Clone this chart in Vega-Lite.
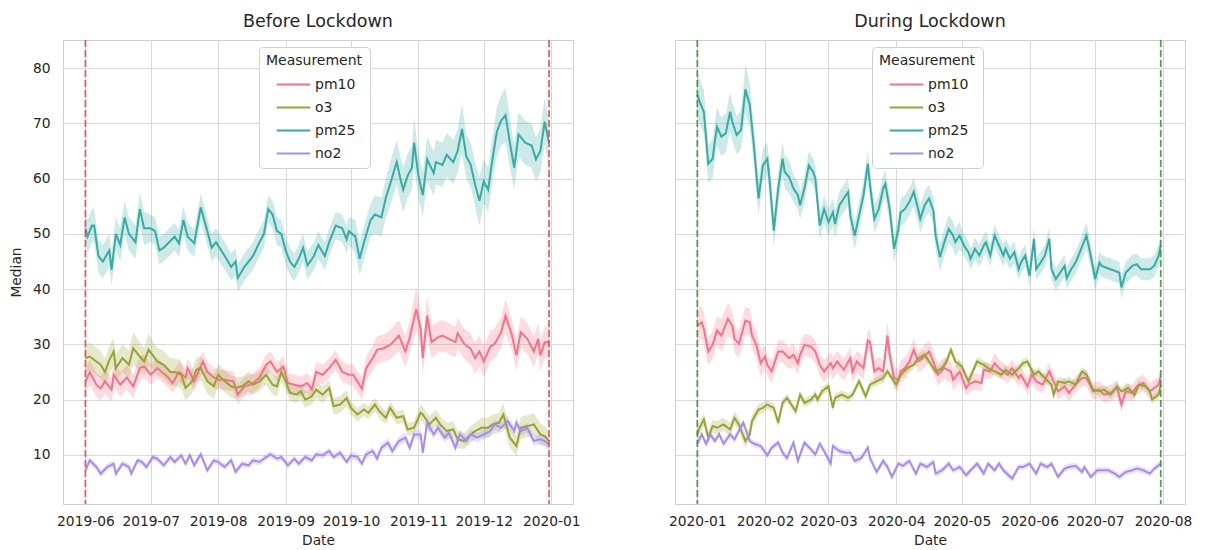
{
"$schema":"https://vega.github.io/schema/vega-lite/v6.json",
"background":"white",
"padding":{"left":8,"top":12,"right":5,"bottom":3},
"bounds":"flush",
"spacing":102,
"config":{
"font":"DejaVu Sans",
"view":{"stroke":"#cfcfcf","strokeWidth":1},
"axis":{"grid":true,"gridColor":"#d9d9d9","gridWidth":1,"domain":false,"ticks":false,"labelColor":"#262626","labelFontSize":13.8,"titleColor":"#262626","titleFontSize":13.8,"titleFontWeight":"normal","labelFont":"DejaVu Sans","titleFont":"DejaVu Sans"},
"title":{"fontSize":17.5,"fontWeight":"normal","color":"#262626","offset":9,"font":"DejaVu Sans"},
"legend":{"titleFontSize":14,"labelFontSize":14,"titleFontWeight":"normal","titleColor":"#262626","labelColor":"#262626","titleFont":"DejaVu Sans","labelFont":"DejaVu Sans","symbolType":"M-1.6,0H1.6","symbolStrokeWidth":2,"symbolSize":441,"symbolOpacity":1,"fillColor":"white","strokeColor":"#d0d0d0","cornerRadius":4,"padding":7,"titleAnchor":"middle","labelOffset":10,"symbolOffset":10,"rowPadding":4,"titlePadding":5}
},
"resolve":{"scale":{"x":"independent","y":"independent","color":"independent"},"legend":{"color":"independent"}},
"datasets":{
"b":[
{"m":"pm25","d":"2019-06-01","v":51,"l":48,"h":54},
{"m":"pm25","d":"2019-06-02","v":49.5,"l":46.5,"h":52.5},
{"m":"pm25","d":"2019-06-04","v":51.5,"l":48.5,"h":54.5},
{"m":"pm25","d":"2019-06-05","v":51.5,"l":48.5,"h":54.5},
{"m":"pm25","d":"2019-06-07","v":46,"l":43,"h":49},
{"m":"pm25","d":"2019-06-09","v":45,"l":42,"h":48},
{"m":"pm25","d":"2019-06-12","v":47,"l":44,"h":50},
{"m":"pm25","d":"2019-06-13","v":43.5,"l":40.5,"h":46.5},
{"m":"pm25","d":"2019-06-15","v":50,"l":47,"h":53},
{"m":"pm25","d":"2019-06-17","v":48,"l":45,"h":51},
{"m":"pm25","d":"2019-06-19","v":53,"l":50,"h":56},
{"m":"pm25","d":"2019-06-21","v":50,"l":47,"h":53},
{"m":"pm25","d":"2019-06-24","v":48.5,"l":45.5,"h":51.5},
{"m":"pm25","d":"2019-06-26","v":54.5,"l":51.5,"h":57.5},
{"m":"pm25","d":"2019-06-28","v":51,"l":48,"h":54},
{"m":"pm25","d":"2019-07-01","v":51,"l":48.5,"h":53.5},
{"m":"pm25","d":"2019-07-03","v":50.5,"l":48,"h":53},
{"m":"pm25","d":"2019-07-05","v":47,"l":44.5,"h":49.5},
{"m":"pm25","d":"2019-07-07","v":47.5,"l":45,"h":50},
{"m":"pm25","d":"2019-07-09","v":48.3,"l":45.8,"h":50.8},
{"m":"pm25","d":"2019-07-12","v":49.5,"l":47,"h":52},
{"m":"pm25","d":"2019-07-14","v":48.3,"l":45.8,"h":50.8},
{"m":"pm25","d":"2019-07-16","v":52.5,"l":50,"h":55},
{"m":"pm25","d":"2019-07-18","v":49.5,"l":47,"h":52},
{"m":"pm25","d":"2019-07-21","v":48.3,"l":45.8,"h":50.8},
{"m":"pm25","d":"2019-07-24","v":54.8,"l":52.3,"h":57.3},
{"m":"pm25","d":"2019-07-27","v":50.5,"l":48,"h":53},
{"m":"pm25","d":"2019-07-29","v":47.5,"l":45,"h":50},
{"m":"pm25","d":"2019-07-31","v":48.5,"l":46,"h":51},
{"m":"pm25","d":"2019-08-04","v":46,"l":43.5,"h":48.5},
{"m":"pm25","d":"2019-08-07","v":44,"l":41.5,"h":46.5},
{"m":"pm25","d":"2019-08-09","v":45,"l":42.5,"h":47.5},
{"m":"pm25","d":"2019-08-10","v":42,"l":39.5,"h":44.5},
{"m":"pm25","d":"2019-08-13","v":44,"l":41.5,"h":46.5},
{"m":"pm25","d":"2019-08-17","v":46,"l":43.5,"h":48.5},
{"m":"pm25","d":"2019-08-20","v":48.5,"l":46,"h":51},
{"m":"pm25","d":"2019-08-22","v":50,"l":47.5,"h":52.5},
{"m":"pm25","d":"2019-08-24","v":54.5,"l":52,"h":57},
{"m":"pm25","d":"2019-08-26","v":53.5,"l":51,"h":56},
{"m":"pm25","d":"2019-08-28","v":50.5,"l":48,"h":53},
{"m":"pm25","d":"2019-08-30","v":50,"l":47.5,"h":52.5},
{"m":"pm25","d":"2019-09-01","v":47,"l":44.5,"h":49.5},
{"m":"pm25","d":"2019-09-03","v":45,"l":42.5,"h":47.5},
{"m":"pm25","d":"2019-09-05","v":44,"l":41.5,"h":46.5},
{"m":"pm25","d":"2019-09-07","v":45.5,"l":43,"h":48},
{"m":"pm25","d":"2019-09-09","v":47.5,"l":45,"h":50},
{"m":"pm25","d":"2019-09-11","v":44.3,"l":41.8,"h":46.8},
{"m":"pm25","d":"2019-09-14","v":46,"l":43.5,"h":48.5},
{"m":"pm25","d":"2019-09-16","v":48,"l":45.5,"h":50.5},
{"m":"pm25","d":"2019-09-19","v":46,"l":43.5,"h":48.5},
{"m":"pm25","d":"2019-09-21","v":48.5,"l":46,"h":51},
{"m":"pm25","d":"2019-09-24","v":51.5,"l":49,"h":54},
{"m":"pm25","d":"2019-09-27","v":51,"l":48.5,"h":53.5},
{"m":"pm25","d":"2019-09-29","v":49,"l":46.5,"h":51.5},
{"m":"pm25","d":"2019-09-30","v":50.5,"l":48,"h":53},
{"m":"pm25","d":"2019-10-03","v":49.5,"l":46.5,"h":52.5},
{"m":"pm25","d":"2019-10-05","v":45.5,"l":42.5,"h":48.5},
{"m":"pm25","d":"2019-10-07","v":48.5,"l":45.5,"h":51.5},
{"m":"pm25","d":"2019-10-10","v":52.5,"l":49.5,"h":55.5},
{"m":"pm25","d":"2019-10-12","v":53.5,"l":50,"h":57},
{"m":"pm25","d":"2019-10-15","v":53,"l":49.5,"h":56.5},
{"m":"pm25","d":"2019-10-17","v":56.5,"l":53,"h":60},
{"m":"pm25","d":"2019-10-19","v":59,"l":55,"h":63},
{"m":"pm25","d":"2019-10-22","v":63,"l":59,"h":67},
{"m":"pm25","d":"2019-10-24","v":59.5,"l":55.5,"h":63.5},
{"m":"pm25","d":"2019-10-25","v":58,"l":54,"h":62},
{"m":"pm25","d":"2019-10-27","v":60.5,"l":56.5,"h":64.5},
{"m":"pm25","d":"2019-10-29","v":62,"l":58,"h":66},
{"m":"pm25","d":"2019-10-30","v":66.5,"l":62,"h":71},
{"m":"pm25","d":"2019-11-01","v":60.5,"l":56.5,"h":64.5},
{"m":"pm25","d":"2019-11-03","v":57,"l":53,"h":61},
{"m":"pm25","d":"2019-11-05","v":63.5,"l":59.5,"h":67.5},
{"m":"pm25","d":"2019-11-08","v":61,"l":57,"h":65},
{"m":"pm25","d":"2019-11-09","v":63,"l":59,"h":67},
{"m":"pm25","d":"2019-11-12","v":62.5,"l":58.5,"h":66.5},
{"m":"pm25","d":"2019-11-14","v":64.3,"l":60.3,"h":68.3},
{"m":"pm25","d":"2019-11-17","v":63,"l":59,"h":67},
{"m":"pm25","d":"2019-11-19","v":65,"l":61,"h":69},
{"m":"pm25","d":"2019-11-21","v":69,"l":64.5,"h":73.5},
{"m":"pm25","d":"2019-11-23","v":64,"l":60,"h":68},
{"m":"pm25","d":"2019-11-25","v":62.5,"l":58.5,"h":66.5},
{"m":"pm25","d":"2019-11-27","v":59,"l":55,"h":63},
{"m":"pm25","d":"2019-11-29","v":56,"l":51.5,"h":60.5},
{"m":"pm25","d":"2019-12-01","v":59.5,"l":55.5,"h":63.5},
{"m":"pm25","d":"2019-12-03","v":58,"l":54,"h":62},
{"m":"pm25","d":"2019-12-05","v":63.5,"l":59.5,"h":67.5},
{"m":"pm25","d":"2019-12-07","v":68.5,"l":64,"h":73},
{"m":"pm25","d":"2019-12-09","v":70.5,"l":66,"h":75},
{"m":"pm25","d":"2019-12-11","v":71.5,"l":66.5,"h":76.5},
{"m":"pm25","d":"2019-12-13","v":66.5,"l":62,"h":71},
{"m":"pm25","d":"2019-12-15","v":62,"l":58,"h":66},
{"m":"pm25","d":"2019-12-17","v":68,"l":64,"h":72},
{"m":"pm25","d":"2019-12-20","v":66.5,"l":62.5,"h":70.5},
{"m":"pm25","d":"2019-12-23","v":66,"l":62,"h":70},
{"m":"pm25","d":"2019-12-25","v":63.5,"l":59.5,"h":67.5},
{"m":"pm25","d":"2019-12-27","v":65,"l":61,"h":69},
{"m":"pm25","d":"2019-12-29","v":70.3,"l":66,"h":74.6},
{"m":"pm25","d":"2019-12-31","v":66.5,"l":62,"h":71},
{"m":"pm10","d":"2019-06-01","v":23.3,"l":21.1,"h":25.5},
{"m":"pm10","d":"2019-06-03","v":25,"l":22.8,"h":27.2},
{"m":"pm10","d":"2019-06-06","v":22.7,"l":20.5,"h":24.9},
{"m":"pm10","d":"2019-06-08","v":22,"l":19.8,"h":24.2},
{"m":"pm10","d":"2019-06-10","v":23.3,"l":21.1,"h":25.5},
{"m":"pm10","d":"2019-06-13","v":21.8,"l":19.6,"h":24},
{"m":"pm10","d":"2019-06-14","v":24.5,"l":22.3,"h":26.7},
{"m":"pm10","d":"2019-06-17","v":22.7,"l":20.5,"h":24.9},
{"m":"pm10","d":"2019-06-20","v":24,"l":21.8,"h":26.2},
{"m":"pm10","d":"2019-06-23","v":22.4,"l":20.2,"h":24.6},
{"m":"pm10","d":"2019-06-26","v":25.7,"l":23.5,"h":27.9},
{"m":"pm10","d":"2019-06-28","v":26,"l":23.8,"h":28.2},
{"m":"pm10","d":"2019-07-01","v":24.5,"l":22.7,"h":26.3},
{"m":"pm10","d":"2019-07-04","v":25.7,"l":23.9,"h":27.5},
{"m":"pm10","d":"2019-07-09","v":24,"l":22.2,"h":25.8},
{"m":"pm10","d":"2019-07-11","v":23,"l":21.2,"h":24.8},
{"m":"pm10","d":"2019-07-14","v":25,"l":23.2,"h":26.8},
{"m":"pm10","d":"2019-07-17","v":24,"l":22.2,"h":25.8},
{"m":"pm10","d":"2019-07-18","v":25.7,"l":23.9,"h":27.5},
{"m":"pm10","d":"2019-07-21","v":23.3,"l":21.5,"h":25.1},
{"m":"pm10","d":"2019-07-25","v":26.9,"l":25.1,"h":28.7},
{"m":"pm10","d":"2019-07-27","v":25,"l":23.2,"h":26.8},
{"m":"pm10","d":"2019-07-30","v":24,"l":22.2,"h":25.8},
{"m":"pm10","d":"2019-08-01","v":23.6,"l":21.8,"h":25.4},
{"m":"pm10","d":"2019-08-04","v":23.6,"l":21.8,"h":25.4},
{"m":"pm10","d":"2019-08-08","v":23.3,"l":21.5,"h":25.1},
{"m":"pm10","d":"2019-08-10","v":20.9,"l":19.1,"h":22.7},
{"m":"pm10","d":"2019-08-13","v":22.4,"l":20.6,"h":24.2},
{"m":"pm10","d":"2019-08-16","v":22.7,"l":20.9,"h":24.5},
{"m":"pm10","d":"2019-08-20","v":24,"l":22.2,"h":25.8},
{"m":"pm10","d":"2019-08-23","v":26.3,"l":24.5,"h":28.1},
{"m":"pm10","d":"2019-08-25","v":26.9,"l":25.1,"h":28.7},
{"m":"pm10","d":"2019-08-28","v":25,"l":23.2,"h":26.8},
{"m":"pm10","d":"2019-08-31","v":26,"l":24.2,"h":27.8},
{"m":"pm10","d":"2019-09-02","v":23,"l":21.2,"h":24.8},
{"m":"pm10","d":"2019-09-05","v":22.7,"l":20.9,"h":24.5},
{"m":"pm10","d":"2019-09-08","v":22.4,"l":20.6,"h":24.2},
{"m":"pm10","d":"2019-09-11","v":23,"l":21.2,"h":24.8},
{"m":"pm10","d":"2019-09-13","v":21.8,"l":20,"h":23.6},
{"m":"pm10","d":"2019-09-15","v":25,"l":23.2,"h":26.8},
{"m":"pm10","d":"2019-09-18","v":24.5,"l":22.7,"h":26.3},
{"m":"pm10","d":"2019-09-21","v":25.7,"l":23.9,"h":27.5},
{"m":"pm10","d":"2019-09-24","v":27.2,"l":25.4,"h":29},
{"m":"pm10","d":"2019-09-27","v":25,"l":23.2,"h":26.8},
{"m":"pm10","d":"2019-09-30","v":24.5,"l":22.7,"h":26.3},
{"m":"pm10","d":"2019-10-02","v":24.5,"l":22.5,"h":26.5},
{"m":"pm10","d":"2019-10-06","v":22,"l":20,"h":24},
{"m":"pm10","d":"2019-10-08","v":25.7,"l":23.5,"h":27.9},
{"m":"pm10","d":"2019-10-11","v":27.5,"l":25.2,"h":29.8},
{"m":"pm10","d":"2019-10-13","v":29,"l":26.5,"h":31.5},
{"m":"pm10","d":"2019-10-16","v":29.3,"l":26.8,"h":31.8},
{"m":"pm10","d":"2019-10-19","v":29.9,"l":27.3,"h":32.5},
{"m":"pm10","d":"2019-10-21","v":30.7,"l":28,"h":33.4},
{"m":"pm10","d":"2019-10-23","v":31.6,"l":28.8,"h":34.4},
{"m":"pm10","d":"2019-10-26","v":28.7,"l":25.9,"h":31.5},
{"m":"pm10","d":"2019-10-28","v":31.3,"l":28.5,"h":34.1},
{"m":"pm10","d":"2019-10-31","v":36.4,"l":32.4,"h":40.4},
{"m":"pm10","d":"2019-11-02","v":32.8,"l":29.5,"h":36.1},
{"m":"pm10","d":"2019-11-03","v":27.5,"l":24.5,"h":30.5},
{"m":"pm10","d":"2019-11-05","v":35.2,"l":31.7,"h":38.7},
{"m":"pm10","d":"2019-11-07","v":30.4,"l":27.4,"h":33.4},
{"m":"pm10","d":"2019-11-10","v":31.3,"l":28.5,"h":34.1},
{"m":"pm10","d":"2019-11-12","v":31.6,"l":28.8,"h":34.4},
{"m":"pm10","d":"2019-11-15","v":31,"l":28.2,"h":33.8},
{"m":"pm10","d":"2019-11-18","v":30.4,"l":27.6,"h":33.2},
{"m":"pm10","d":"2019-11-19","v":32,"l":29.2,"h":34.8},
{"m":"pm10","d":"2019-11-22","v":30.1,"l":27.3,"h":32.9},
{"m":"pm10","d":"2019-11-25","v":29.2,"l":26.4,"h":32},
{"m":"pm10","d":"2019-11-27","v":27.5,"l":24.7,"h":30.3},
{"m":"pm10","d":"2019-11-29","v":28.7,"l":25.9,"h":31.5},
{"m":"pm10","d":"2019-12-01","v":26.9,"l":24.1,"h":29.7},
{"m":"pm10","d":"2019-12-04","v":29.6,"l":26.8,"h":32.4},
{"m":"pm10","d":"2019-12-06","v":30.1,"l":27.3,"h":32.9},
{"m":"pm10","d":"2019-12-09","v":32.2,"l":29.4,"h":35},
{"m":"pm10","d":"2019-12-11","v":35.2,"l":32.2,"h":38.2},
{"m":"pm10","d":"2019-12-14","v":31.6,"l":28.8,"h":34.4},
{"m":"pm10","d":"2019-12-16","v":28,"l":25.2,"h":30.8},
{"m":"pm10","d":"2019-12-18","v":32.2,"l":29.4,"h":35},
{"m":"pm10","d":"2019-12-21","v":31,"l":28.2,"h":33.8},
{"m":"pm10","d":"2019-12-24","v":28.7,"l":25.9,"h":31.5},
{"m":"pm10","d":"2019-12-26","v":31,"l":28.2,"h":33.8},
{"m":"pm10","d":"2019-12-27","v":28,"l":25.2,"h":30.8},
{"m":"pm10","d":"2019-12-29","v":30.4,"l":27.6,"h":33.2},
{"m":"pm10","d":"2019-12-31","v":30.4,"l":27.6,"h":33.2},
{"m":"o3","d":"2019-06-01","v":27.5,"l":25,"h":30},
{"m":"o3","d":"2019-06-03","v":27.8,"l":25.3,"h":30.3},
{"m":"o3","d":"2019-06-06","v":26.9,"l":24.4,"h":29.4},
{"m":"o3","d":"2019-06-08","v":26.3,"l":23.8,"h":28.8},
{"m":"o3","d":"2019-06-10","v":25,"l":22.5,"h":27.5},
{"m":"o3","d":"2019-06-12","v":27.2,"l":24.7,"h":29.7},
{"m":"o3","d":"2019-06-14","v":28.7,"l":26.2,"h":31.2},
{"m":"o3","d":"2019-06-15","v":25.7,"l":23.2,"h":28.2},
{"m":"o3","d":"2019-06-18","v":27.5,"l":25,"h":30},
{"m":"o3","d":"2019-06-21","v":26.3,"l":23.8,"h":28.8},
{"m":"o3","d":"2019-06-23","v":29.3,"l":26.3,"h":32.3},
{"m":"o3","d":"2019-06-26","v":27.8,"l":25.3,"h":30.3},
{"m":"o3","d":"2019-06-28","v":26.9,"l":24.4,"h":29.4},
{"m":"o3","d":"2019-06-30","v":29,"l":26,"h":32},
{"m":"o3","d":"2019-07-02","v":28,"l":25.5,"h":30.5},
{"m":"o3","d":"2019-07-04","v":26.9,"l":24.4,"h":29.4},
{"m":"o3","d":"2019-07-07","v":26.3,"l":23.8,"h":28.8},
{"m":"o3","d":"2019-07-10","v":25,"l":22.5,"h":27.5},
{"m":"o3","d":"2019-07-12","v":25,"l":22.5,"h":27.5},
{"m":"o3","d":"2019-07-15","v":24.5,"l":22,"h":27},
{"m":"o3","d":"2019-07-17","v":22.1,"l":19.9,"h":24.3},
{"m":"o3","d":"2019-07-20","v":23.3,"l":21.1,"h":25.5},
{"m":"o3","d":"2019-07-22","v":25.4,"l":23.2,"h":27.6},
{"m":"o3","d":"2019-07-24","v":25.7,"l":23.5,"h":27.9},
{"m":"o3","d":"2019-07-27","v":23.3,"l":21.1,"h":25.5},
{"m":"o3","d":"2019-07-30","v":22.4,"l":20.2,"h":24.6},
{"m":"o3","d":"2019-08-01","v":24.5,"l":22.5,"h":26.5},
{"m":"o3","d":"2019-08-04","v":23.3,"l":21.3,"h":25.3},
{"m":"o3","d":"2019-08-07","v":22.4,"l":20.4,"h":24.4},
{"m":"o3","d":"2019-08-09","v":22.1,"l":20.1,"h":24.1},
{"m":"o3","d":"2019-08-12","v":22.4,"l":20.6,"h":24.2},
{"m":"o3","d":"2019-08-15","v":23.3,"l":21.5,"h":25.1},
{"m":"o3","d":"2019-08-17","v":22.7,"l":20.9,"h":24.5},
{"m":"o3","d":"2019-08-20","v":23.3,"l":21.5,"h":25.1},
{"m":"o3","d":"2019-08-23","v":24.5,"l":22.7,"h":26.3},
{"m":"o3","d":"2019-08-26","v":22.7,"l":20.9,"h":24.5},
{"m":"o3","d":"2019-08-28","v":22.4,"l":20.6,"h":24.2},
{"m":"o3","d":"2019-08-30","v":25,"l":23.2,"h":26.8},
{"m":"o3","d":"2019-09-01","v":23.3,"l":21.8,"h":24.8},
{"m":"o3","d":"2019-09-03","v":21.2,"l":19.7,"h":22.7},
{"m":"o3","d":"2019-09-06","v":20.9,"l":19.4,"h":22.4},
{"m":"o3","d":"2019-09-08","v":21.5,"l":20,"h":23},
{"m":"o3","d":"2019-09-10","v":20,"l":18.5,"h":21.5},
{"m":"o3","d":"2019-09-13","v":20.6,"l":19.1,"h":22.1},
{"m":"o3","d":"2019-09-15","v":21.8,"l":20.3,"h":23.3},
{"m":"o3","d":"2019-09-18","v":20.9,"l":19.4,"h":22.4},
{"m":"o3","d":"2019-09-21","v":22.1,"l":20.6,"h":23.6},
{"m":"o3","d":"2019-09-23","v":18.8,"l":17.3,"h":20.3},
{"m":"o3","d":"2019-09-26","v":19.1,"l":17.6,"h":20.6},
{"m":"o3","d":"2019-09-29","v":20.3,"l":18.8,"h":21.8},
{"m":"o3","d":"2019-10-01","v":18.5,"l":17.3,"h":19.7},
{"m":"o3","d":"2019-10-04","v":17.3,"l":16.1,"h":18.5},
{"m":"o3","d":"2019-10-07","v":18.2,"l":17,"h":19.4},
{"m":"o3","d":"2019-10-09","v":17.6,"l":16.4,"h":18.8},
{"m":"o3","d":"2019-10-12","v":19.1,"l":17.9,"h":20.3},
{"m":"o3","d":"2019-10-14","v":17.9,"l":16.7,"h":19.1},
{"m":"o3","d":"2019-10-17","v":16.7,"l":15.5,"h":17.9},
{"m":"o3","d":"2019-10-19","v":18.5,"l":17.3,"h":19.7},
{"m":"o3","d":"2019-10-22","v":16.7,"l":15.5,"h":17.9},
{"m":"o3","d":"2019-10-25","v":17,"l":15.8,"h":18.2},
{"m":"o3","d":"2019-10-27","v":14.6,"l":13.4,"h":15.8},
{"m":"o3","d":"2019-10-30","v":14.9,"l":13.7,"h":16.1},
{"m":"o3","d":"2019-11-02","v":17.6,"l":16.1,"h":19.1},
{"m":"o3","d":"2019-11-03","v":17.3,"l":15.8,"h":18.8},
{"m":"o3","d":"2019-11-06","v":15.5,"l":14,"h":17},
{"m":"o3","d":"2019-11-09","v":16.7,"l":15.2,"h":18.2},
{"m":"o3","d":"2019-11-11","v":15.5,"l":14,"h":17},
{"m":"o3","d":"2019-11-14","v":14.3,"l":12.8,"h":15.8},
{"m":"o3","d":"2019-11-17","v":14.6,"l":13.1,"h":16.1},
{"m":"o3","d":"2019-11-19","v":12.8,"l":11.3,"h":14.3},
{"m":"o3","d":"2019-11-22","v":12.5,"l":11,"h":14},
{"m":"o3","d":"2019-11-25","v":13.7,"l":12.2,"h":15.2},
{"m":"o3","d":"2019-11-27","v":14.3,"l":12.8,"h":15.8},
{"m":"o3","d":"2019-11-30","v":14.9,"l":13.1,"h":16.7},
{"m":"o3","d":"2019-12-03","v":14.9,"l":13.1,"h":16.7},
{"m":"o3","d":"2019-12-05","v":15.5,"l":13.7,"h":17.3},
{"m":"o3","d":"2019-12-08","v":15.8,"l":14,"h":17.6},
{"m":"o3","d":"2019-12-10","v":17.3,"l":15.3,"h":19.3},
{"m":"o3","d":"2019-12-13","v":13.1,"l":11.3,"h":14.9},
{"m":"o3","d":"2019-12-16","v":11.6,"l":9.8,"h":13.4},
{"m":"o3","d":"2019-12-18","v":14.9,"l":12.9,"h":16.9},
{"m":"o3","d":"2019-12-21","v":15.2,"l":13.2,"h":17.2},
{"m":"o3","d":"2019-12-24","v":15.5,"l":13.5,"h":17.5},
{"m":"o3","d":"2019-12-27","v":13.7,"l":11.7,"h":15.7},
{"m":"o3","d":"2019-12-29","v":13.4,"l":11.6,"h":15.2},
{"m":"o3","d":"2019-12-31","v":12.5,"l":10.7,"h":14.3},
{"m":"no2","d":"2019-06-01","v":7.2,"l":6.6,"h":7.8},
{"m":"no2","d":"2019-06-03","v":9,"l":8.4,"h":9.6},
{"m":"no2","d":"2019-06-06","v":7.8,"l":7.2,"h":8.4},
{"m":"no2","d":"2019-06-08","v":6.6,"l":6,"h":7.2},
{"m":"no2","d":"2019-06-11","v":7.8,"l":7.2,"h":8.4},
{"m":"no2","d":"2019-06-14","v":8.4,"l":7.8,"h":9},
{"m":"no2","d":"2019-06-15","v":6.6,"l":6,"h":7.2},
{"m":"no2","d":"2019-06-18","v":8.4,"l":7.8,"h":9},
{"m":"no2","d":"2019-06-21","v":7.8,"l":7.2,"h":8.4},
{"m":"no2","d":"2019-06-22","v":6.6,"l":6,"h":7.2},
{"m":"no2","d":"2019-06-25","v":9,"l":8.4,"h":9.6},
{"m":"no2","d":"2019-06-27","v":8.7,"l":8.1,"h":9.3},
{"m":"no2","d":"2019-06-29","v":7.8,"l":7.2,"h":8.4},
{"m":"no2","d":"2019-07-02","v":9.6,"l":9,"h":10.2},
{"m":"no2","d":"2019-07-04","v":9.3,"l":8.7,"h":9.9},
{"m":"no2","d":"2019-07-07","v":8.1,"l":7.5,"h":8.7},
{"m":"no2","d":"2019-07-10","v":9.6,"l":9,"h":10.2},
{"m":"no2","d":"2019-07-12","v":8.7,"l":8.1,"h":9.3},
{"m":"no2","d":"2019-07-15","v":9.9,"l":9.3,"h":10.5},
{"m":"no2","d":"2019-07-17","v":8.4,"l":7.8,"h":9},
{"m":"no2","d":"2019-07-19","v":9.9,"l":9.3,"h":10.5},
{"m":"no2","d":"2019-07-21","v":8.1,"l":7.5,"h":8.7},
{"m":"no2","d":"2019-07-24","v":10.1,"l":9.5,"h":10.7},
{"m":"no2","d":"2019-07-27","v":7.2,"l":6.6,"h":7.8},
{"m":"no2","d":"2019-07-30","v":9,"l":8.4,"h":9.6},
{"m":"no2","d":"2019-08-01","v":8.7,"l":8.1,"h":9.3},
{"m":"no2","d":"2019-08-04","v":7.8,"l":7.2,"h":8.4},
{"m":"no2","d":"2019-08-07","v":9,"l":8.4,"h":9.6},
{"m":"no2","d":"2019-08-09","v":6.9,"l":6.3,"h":7.5},
{"m":"no2","d":"2019-08-12","v":8.4,"l":7.8,"h":9},
{"m":"no2","d":"2019-08-15","v":8.1,"l":7.5,"h":8.7},
{"m":"no2","d":"2019-08-17","v":9,"l":8.4,"h":9.6},
{"m":"no2","d":"2019-08-20","v":8.7,"l":8.1,"h":9.3},
{"m":"no2","d":"2019-08-23","v":9.6,"l":9,"h":10.2},
{"m":"no2","d":"2019-08-25","v":10.1,"l":9.5,"h":10.7},
{"m":"no2","d":"2019-08-28","v":9.3,"l":8.7,"h":9.9},
{"m":"no2","d":"2019-08-30","v":9.6,"l":9,"h":10.2},
{"m":"no2","d":"2019-09-02","v":8.1,"l":7.5,"h":8.7},
{"m":"no2","d":"2019-09-05","v":9.3,"l":8.7,"h":9.9},
{"m":"no2","d":"2019-09-07","v":8.4,"l":7.8,"h":9},
{"m":"no2","d":"2019-09-10","v":9.6,"l":9,"h":10.2},
{"m":"no2","d":"2019-09-13","v":9,"l":8.4,"h":9.6},
{"m":"no2","d":"2019-09-15","v":10.1,"l":9.5,"h":10.7},
{"m":"no2","d":"2019-09-18","v":9.9,"l":9.3,"h":10.5},
{"m":"no2","d":"2019-09-21","v":10.7,"l":10.1,"h":11.3},
{"m":"no2","d":"2019-09-23","v":9.6,"l":9,"h":10.2},
{"m":"no2","d":"2019-09-26","v":10.4,"l":9.8,"h":11},
{"m":"no2","d":"2019-09-29","v":8.7,"l":8.1,"h":9.3},
{"m":"no2","d":"2019-10-01","v":9.9,"l":9.2,"h":10.6},
{"m":"no2","d":"2019-10-04","v":9.6,"l":8.9,"h":10.3},
{"m":"no2","d":"2019-10-06","v":8.4,"l":7.7,"h":9.1},
{"m":"no2","d":"2019-10-08","v":10.1,"l":9.4,"h":10.8},
{"m":"no2","d":"2019-10-11","v":10.7,"l":10,"h":11.4},
{"m":"no2","d":"2019-10-13","v":9.3,"l":8.6,"h":10},
{"m":"no2","d":"2019-10-15","v":11.3,"l":10.5,"h":12.1},
{"m":"no2","d":"2019-10-18","v":12.2,"l":11.4,"h":13},
{"m":"no2","d":"2019-10-20","v":10.7,"l":9.9,"h":11.5},
{"m":"no2","d":"2019-10-23","v":12.5,"l":11.7,"h":13.3},
{"m":"no2","d":"2019-10-26","v":13.1,"l":12.2,"h":14},
{"m":"no2","d":"2019-10-28","v":11.3,"l":10.4,"h":12.2},
{"m":"no2","d":"2019-10-30","v":13.7,"l":12.8,"h":14.6},
{"m":"no2","d":"2019-11-02","v":13.7,"l":12.8,"h":14.6},
{"m":"no2","d":"2019-11-03","v":10.4,"l":9.5,"h":11.3},
{"m":"no2","d":"2019-11-05","v":15.8,"l":14.8,"h":16.8},
{"m":"no2","d":"2019-11-08","v":13.7,"l":12.8,"h":14.6},
{"m":"no2","d":"2019-11-10","v":14.9,"l":14,"h":15.8},
{"m":"no2","d":"2019-11-13","v":13.1,"l":12.2,"h":14},
{"m":"no2","d":"2019-11-15","v":14,"l":13.1,"h":14.9},
{"m":"no2","d":"2019-11-18","v":11.3,"l":10.4,"h":12.2},
{"m":"no2","d":"2019-11-20","v":13.7,"l":12.8,"h":14.6},
{"m":"no2","d":"2019-11-23","v":12.5,"l":11.6,"h":13.4},
{"m":"no2","d":"2019-11-25","v":13.7,"l":12.8,"h":14.6},
{"m":"no2","d":"2019-11-28","v":13.1,"l":12.2,"h":14},
{"m":"no2","d":"2019-12-01","v":13.7,"l":12.8,"h":14.6},
{"m":"no2","d":"2019-12-04","v":14.3,"l":13.4,"h":15.2},
{"m":"no2","d":"2019-12-06","v":15.5,"l":14.6,"h":16.4},
{"m":"no2","d":"2019-12-09","v":14.9,"l":14,"h":15.8},
{"m":"no2","d":"2019-12-12","v":16.1,"l":15.1,"h":17.1},
{"m":"no2","d":"2019-12-15","v":14.3,"l":13.4,"h":15.2},
{"m":"no2","d":"2019-12-16","v":15.8,"l":14.9,"h":16.7},
{"m":"no2","d":"2019-12-18","v":14.3,"l":13.4,"h":15.2},
{"m":"no2","d":"2019-12-21","v":14.9,"l":14,"h":15.8},
{"m":"no2","d":"2019-12-24","v":12.5,"l":11.6,"h":13.4},
{"m":"no2","d":"2019-12-27","v":12.8,"l":11.9,"h":13.7},
{"m":"no2","d":"2019-12-29","v":12.5,"l":11.6,"h":13.4},
{"m":"no2","d":"2019-12-31","v":11.9,"l":11,"h":12.8}
],
"a":[
{"m":"pm25","d":"2020-01-01","v":75.2,"l":71.2,"h":79.2},
{"m":"pm25","d":"2020-01-02","v":74,"l":70,"h":78},
{"m":"pm25","d":"2020-01-04","v":72.1,"l":68.1,"h":76.1},
{"m":"pm25","d":"2020-01-06","v":62.7,"l":59.2,"h":66.2},
{"m":"pm25","d":"2020-01-08","v":63.6,"l":60.1,"h":67.1},
{"m":"pm25","d":"2020-01-09","v":66.7,"l":63.2,"h":70.2},
{"m":"pm25","d":"2020-01-10","v":69.4,"l":65.9,"h":72.9},
{"m":"pm25","d":"2020-01-12","v":67.6,"l":64.1,"h":71.1},
{"m":"pm25","d":"2020-01-14","v":68.2,"l":64.7,"h":71.7},
{"m":"pm25","d":"2020-01-16","v":72.1,"l":68.6,"h":75.6},
{"m":"pm25","d":"2020-01-17","v":70.3,"l":66.8,"h":73.8},
{"m":"pm25","d":"2020-01-19","v":67.9,"l":64.4,"h":71.4},
{"m":"pm25","d":"2020-01-21","v":68.8,"l":65.3,"h":72.3},
{"m":"pm25","d":"2020-01-23","v":76.2,"l":71.7,"h":80.7},
{"m":"pm25","d":"2020-01-25","v":73.3,"l":69.3,"h":77.3},
{"m":"pm25","d":"2020-01-27","v":65.5,"l":62,"h":69},
{"m":"pm25","d":"2020-01-29","v":56.4,"l":53.4,"h":59.4},
{"m":"pm25","d":"2020-01-31","v":62.4,"l":59.4,"h":65.4},
{"m":"pm25","d":"2020-02-02","v":63.6,"l":60.6,"h":66.6},
{"m":"pm25","d":"2020-02-03","v":60,"l":57,"h":63},
{"m":"pm25","d":"2020-02-05","v":50.6,"l":47.6,"h":53.6},
{"m":"pm25","d":"2020-02-07","v":58.2,"l":55.2,"h":61.2},
{"m":"pm25","d":"2020-02-09","v":63.6,"l":60.6,"h":66.6},
{"m":"pm25","d":"2020-02-10","v":61.2,"l":58.2,"h":64.2},
{"m":"pm25","d":"2020-02-12","v":60.3,"l":57.3,"h":63.3},
{"m":"pm25","d":"2020-02-14","v":58.2,"l":55.7,"h":60.7},
{"m":"pm25","d":"2020-02-16","v":57,"l":54.5,"h":59.5},
{"m":"pm25","d":"2020-02-17","v":55.2,"l":52.7,"h":57.7},
{"m":"pm25","d":"2020-02-19","v":58.2,"l":55.7,"h":60.7},
{"m":"pm25","d":"2020-02-21","v":62.4,"l":59.9,"h":64.9},
{"m":"pm25","d":"2020-02-23","v":61.2,"l":58.7,"h":63.7},
{"m":"pm25","d":"2020-02-24","v":60,"l":57.5,"h":62.5},
{"m":"pm25","d":"2020-02-26","v":51.5,"l":49,"h":54},
{"m":"pm25","d":"2020-02-28","v":54.5,"l":52,"h":57},
{"m":"pm25","d":"2020-03-01","v":52.1,"l":49.6,"h":54.6},
{"m":"pm25","d":"2020-03-03","v":53.9,"l":51.4,"h":56.4},
{"m":"pm25","d":"2020-03-04","v":51.8,"l":49.3,"h":54.3},
{"m":"pm25","d":"2020-03-06","v":55.2,"l":52.7,"h":57.7},
{"m":"pm25","d":"2020-03-08","v":56.4,"l":53.9,"h":58.9},
{"m":"pm25","d":"2020-03-10","v":57.6,"l":55.1,"h":60.1},
{"m":"pm25","d":"2020-03-11","v":53.3,"l":50.8,"h":55.8},
{"m":"pm25","d":"2020-03-13","v":49.7,"l":47.2,"h":52.2},
{"m":"pm25","d":"2020-03-15","v":53.3,"l":50.8,"h":55.8},
{"m":"pm25","d":"2020-03-17","v":57,"l":54.5,"h":59.5},
{"m":"pm25","d":"2020-03-19","v":62.7,"l":60.2,"h":65.2},
{"m":"pm25","d":"2020-03-20","v":58.8,"l":56.3,"h":61.3},
{"m":"pm25","d":"2020-03-22","v":52.7,"l":50.2,"h":55.2},
{"m":"pm25","d":"2020-03-24","v":54.5,"l":52,"h":57},
{"m":"pm25","d":"2020-03-26","v":58.2,"l":55.7,"h":60.7},
{"m":"pm25","d":"2020-03-27","v":59.1,"l":56.6,"h":61.6},
{"m":"pm25","d":"2020-03-29","v":54.5,"l":52,"h":57},
{"m":"pm25","d":"2020-03-31","v":47.3,"l":44.8,"h":49.8},
{"m":"pm25","d":"2020-04-02","v":50.9,"l":48.4,"h":53.4},
{"m":"pm25","d":"2020-04-03","v":53.9,"l":51.4,"h":56.4},
{"m":"pm25","d":"2020-04-05","v":54.5,"l":52,"h":57},
{"m":"pm25","d":"2020-04-07","v":55.8,"l":53.3,"h":58.3},
{"m":"pm25","d":"2020-04-09","v":57.6,"l":55.1,"h":60.1},
{"m":"pm25","d":"2020-04-11","v":54.5,"l":52,"h":57},
{"m":"pm25","d":"2020-04-12","v":52.7,"l":50.2,"h":55.2},
{"m":"pm25","d":"2020-04-14","v":55.2,"l":52.7,"h":57.7},
{"m":"pm25","d":"2020-04-16","v":56.4,"l":53.9,"h":58.9},
{"m":"pm25","d":"2020-04-18","v":54.2,"l":51.7,"h":56.7},
{"m":"pm25","d":"2020-04-19","v":49.7,"l":47.2,"h":52.2},
{"m":"pm25","d":"2020-04-21","v":45.8,"l":43.3,"h":48.3},
{"m":"pm25","d":"2020-04-23","v":48.5,"l":46,"h":51},
{"m":"pm25","d":"2020-04-25","v":50.9,"l":48.4,"h":53.4},
{"m":"pm25","d":"2020-04-27","v":49.7,"l":47.2,"h":52.2},
{"m":"pm25","d":"2020-04-28","v":48.5,"l":46,"h":51},
{"m":"pm25","d":"2020-04-30","v":49.7,"l":47.2,"h":52.2},
{"m":"pm25","d":"2020-05-02","v":47.9,"l":45.9,"h":49.9},
{"m":"pm25","d":"2020-05-04","v":46.7,"l":44.7,"h":48.7},
{"m":"pm25","d":"2020-05-05","v":45.5,"l":43.5,"h":47.5},
{"m":"pm25","d":"2020-05-07","v":47.3,"l":45.3,"h":49.3},
{"m":"pm25","d":"2020-05-09","v":46.1,"l":44.1,"h":48.1},
{"m":"pm25","d":"2020-05-11","v":47.9,"l":45.9,"h":49.9},
{"m":"pm25","d":"2020-05-12","v":48.5,"l":46.5,"h":50.5},
{"m":"pm25","d":"2020-05-14","v":46.1,"l":44.1,"h":48.1},
{"m":"pm25","d":"2020-05-16","v":49.7,"l":47.7,"h":51.7},
{"m":"pm25","d":"2020-05-18","v":47.9,"l":45.9,"h":49.9},
{"m":"pm25","d":"2020-05-20","v":46.1,"l":44.1,"h":48.1},
{"m":"pm25","d":"2020-05-21","v":47.3,"l":45.3,"h":49.3},
{"m":"pm25","d":"2020-05-23","v":45.5,"l":43.5,"h":47.5},
{"m":"pm25","d":"2020-05-25","v":46.7,"l":44.7,"h":48.7},
{"m":"pm25","d":"2020-05-27","v":43.6,"l":41.6,"h":45.6},
{"m":"pm25","d":"2020-05-28","v":44.8,"l":42.8,"h":46.8},
{"m":"pm25","d":"2020-05-30","v":46.1,"l":44.1,"h":48.1},
{"m":"pm25","d":"2020-06-01","v":42.4,"l":40.4,"h":44.4},
{"m":"pm25","d":"2020-06-03","v":49.1,"l":47.1,"h":51.1},
{"m":"pm25","d":"2020-06-04","v":43.6,"l":41.6,"h":45.6},
{"m":"pm25","d":"2020-06-06","v":44.8,"l":42.8,"h":46.8},
{"m":"pm25","d":"2020-06-08","v":46.1,"l":44.1,"h":48.1},
{"m":"pm25","d":"2020-06-10","v":49.1,"l":47.1,"h":51.1},
{"m":"pm25","d":"2020-06-11","v":43.6,"l":41.6,"h":45.6},
{"m":"pm25","d":"2020-06-13","v":41.8,"l":39.8,"h":43.8},
{"m":"pm25","d":"2020-06-15","v":43,"l":41,"h":45},
{"m":"pm25","d":"2020-06-17","v":44.2,"l":42.2,"h":46.2},
{"m":"pm25","d":"2020-06-18","v":42,"l":40,"h":44},
{"m":"pm25","d":"2020-06-20","v":43.6,"l":41.6,"h":45.6},
{"m":"pm25","d":"2020-06-22","v":44.8,"l":42.8,"h":46.8},
{"m":"pm25","d":"2020-06-24","v":46.7,"l":44.7,"h":48.7},
{"m":"pm25","d":"2020-06-27","v":49.7,"l":47.2,"h":52.2},
{"m":"pm25","d":"2020-06-29","v":46,"l":44,"h":48},
{"m":"pm25","d":"2020-07-01","v":41.8,"l":39.8,"h":43.8},
{"m":"pm25","d":"2020-07-03","v":44.8,"l":42.8,"h":46.8},
{"m":"pm25","d":"2020-07-04","v":44.2,"l":42.2,"h":46.2},
{"m":"pm25","d":"2020-07-08","v":43.6,"l":41.6,"h":45.6},
{"m":"pm25","d":"2020-07-12","v":43,"l":41,"h":45},
{"m":"pm25","d":"2020-07-13","v":40.3,"l":38.3,"h":42.3},
{"m":"pm25","d":"2020-07-15","v":43,"l":41,"h":45},
{"m":"pm25","d":"2020-07-18","v":44.2,"l":42.2,"h":46.2},
{"m":"pm25","d":"2020-07-20","v":44.5,"l":42.5,"h":46.5},
{"m":"pm25","d":"2020-07-22","v":43.6,"l":41.6,"h":45.6},
{"m":"pm25","d":"2020-07-26","v":43.6,"l":41.6,"h":45.6},
{"m":"pm25","d":"2020-07-28","v":44.2,"l":42.2,"h":46.2},
{"m":"pm25","d":"2020-07-30","v":46,"l":44,"h":48},
{"m":"pm25","d":"2020-07-31","v":47.9,"l":45.9,"h":49.9},
{"m":"pm10","d":"2020-01-01","v":33.4,"l":30.4,"h":36.4},
{"m":"pm10","d":"2020-01-03","v":34,"l":31,"h":37},
{"m":"pm10","d":"2020-01-04","v":32.8,"l":29.8,"h":35.8},
{"m":"pm10","d":"2020-01-06","v":28.7,"l":26.2,"h":31.2},
{"m":"pm10","d":"2020-01-08","v":29.9,"l":27.4,"h":32.4},
{"m":"pm10","d":"2020-01-10","v":32.5,"l":30,"h":35},
{"m":"pm10","d":"2020-01-12","v":31.6,"l":28.6,"h":34.6},
{"m":"pm10","d":"2020-01-15","v":34.6,"l":31.6,"h":37.6},
{"m":"pm10","d":"2020-01-17","v":33.4,"l":30.9,"h":35.9},
{"m":"pm10","d":"2020-01-18","v":31,"l":28.5,"h":33.5},
{"m":"pm10","d":"2020-01-20","v":30.1,"l":27.6,"h":32.6},
{"m":"pm10","d":"2020-01-23","v":34.3,"l":31.8,"h":36.8},
{"m":"pm10","d":"2020-01-25","v":34,"l":31.5,"h":36.5},
{"m":"pm10","d":"2020-01-26","v":31.6,"l":29.1,"h":34.1},
{"m":"pm10","d":"2020-01-28","v":29.9,"l":27.4,"h":32.4},
{"m":"pm10","d":"2020-01-30","v":26.6,"l":24.1,"h":29.1},
{"m":"pm10","d":"2020-02-01","v":27.8,"l":25.8,"h":29.8},
{"m":"pm10","d":"2020-02-02","v":26.3,"l":24.3,"h":28.3},
{"m":"pm10","d":"2020-02-04","v":25.1,"l":23.1,"h":27.1},
{"m":"pm10","d":"2020-02-07","v":28.7,"l":26.7,"h":30.7},
{"m":"pm10","d":"2020-02-09","v":28.7,"l":26.7,"h":30.7},
{"m":"pm10","d":"2020-02-12","v":27.5,"l":25.5,"h":29.5},
{"m":"pm10","d":"2020-02-14","v":28.1,"l":26.1,"h":30.1},
{"m":"pm10","d":"2020-02-16","v":26.6,"l":24.6,"h":28.6},
{"m":"pm10","d":"2020-02-17","v":28.1,"l":26.1,"h":30.1},
{"m":"pm10","d":"2020-02-19","v":29.9,"l":27.9,"h":31.9},
{"m":"pm10","d":"2020-02-22","v":29.6,"l":27.6,"h":31.6},
{"m":"pm10","d":"2020-02-24","v":28.7,"l":26.7,"h":30.7},
{"m":"pm10","d":"2020-02-26","v":26.3,"l":24.3,"h":28.3},
{"m":"pm10","d":"2020-02-28","v":25.1,"l":23.1,"h":27.1},
{"m":"pm10","d":"2020-03-02","v":26.6,"l":24.6,"h":28.6},
{"m":"pm10","d":"2020-03-03","v":25.7,"l":23.7,"h":27.7},
{"m":"pm10","d":"2020-03-05","v":26.9,"l":24.9,"h":28.9},
{"m":"pm10","d":"2020-03-08","v":25.4,"l":23.4,"h":27.4},
{"m":"pm10","d":"2020-03-11","v":27.5,"l":25.5,"h":29.5},
{"m":"pm10","d":"2020-03-12","v":25.1,"l":23.1,"h":27.1},
{"m":"pm10","d":"2020-03-14","v":26.9,"l":24.9,"h":28.9},
{"m":"pm10","d":"2020-03-17","v":25.7,"l":23.7,"h":27.7},
{"m":"pm10","d":"2020-03-19","v":30.7,"l":28.7,"h":32.7},
{"m":"pm10","d":"2020-03-20","v":30.4,"l":28.4,"h":32.4},
{"m":"pm10","d":"2020-03-22","v":25.1,"l":23.1,"h":27.1},
{"m":"pm10","d":"2020-03-24","v":25.7,"l":23.7,"h":27.7},
{"m":"pm10","d":"2020-03-26","v":25.1,"l":23.1,"h":27.1},
{"m":"pm10","d":"2020-03-28","v":31.6,"l":29.1,"h":34.1},
{"m":"pm10","d":"2020-03-29","v":28.1,"l":26.1,"h":30.1},
{"m":"pm10","d":"2020-03-31","v":23.9,"l":21.9,"h":25.9},
{"m":"pm10","d":"2020-04-02","v":23.6,"l":21.6,"h":25.6},
{"m":"pm10","d":"2020-04-03","v":25.1,"l":23.1,"h":27.1},
{"m":"pm10","d":"2020-04-05","v":25.7,"l":23.7,"h":27.7},
{"m":"pm10","d":"2020-04-07","v":26.9,"l":24.9,"h":28.9},
{"m":"pm10","d":"2020-04-09","v":29,"l":27,"h":31},
{"m":"pm10","d":"2020-04-11","v":26.9,"l":24.9,"h":28.9},
{"m":"pm10","d":"2020-04-13","v":27.5,"l":25.5,"h":29.5},
{"m":"pm10","d":"2020-04-16","v":28.7,"l":26.7,"h":30.7},
{"m":"pm10","d":"2020-04-18","v":26.9,"l":24.9,"h":28.9},
{"m":"pm10","d":"2020-04-20","v":24.5,"l":22.5,"h":26.5},
{"m":"pm10","d":"2020-04-23","v":25.7,"l":23.7,"h":27.7},
{"m":"pm10","d":"2020-04-26","v":25.1,"l":23.1,"h":27.1},
{"m":"pm10","d":"2020-04-27","v":23.6,"l":21.6,"h":25.6},
{"m":"pm10","d":"2020-04-30","v":25.1,"l":23.1,"h":27.1},
{"m":"pm10","d":"2020-05-03","v":22.1,"l":20.6,"h":23.6},
{"m":"pm10","d":"2020-05-04","v":22.7,"l":21.2,"h":24.2},
{"m":"pm10","d":"2020-05-07","v":23.3,"l":21.8,"h":24.8},
{"m":"pm10","d":"2020-05-10","v":23,"l":21.5,"h":24.5},
{"m":"pm10","d":"2020-05-11","v":25.4,"l":23.9,"h":26.9},
{"m":"pm10","d":"2020-05-14","v":25.1,"l":23.6,"h":26.6},
{"m":"pm10","d":"2020-05-16","v":26.6,"l":24.6,"h":28.6},
{"m":"pm10","d":"2020-05-18","v":25.7,"l":24.2,"h":27.2},
{"m":"pm10","d":"2020-05-20","v":25.1,"l":23.6,"h":26.6},
{"m":"pm10","d":"2020-05-22","v":24.5,"l":23,"h":26},
{"m":"pm10","d":"2020-05-24","v":25.7,"l":24.2,"h":27.2},
{"m":"pm10","d":"2020-05-27","v":23.9,"l":22.4,"h":25.4},
{"m":"pm10","d":"2020-05-28","v":24.5,"l":23,"h":26},
{"m":"pm10","d":"2020-05-31","v":22.4,"l":20.9,"h":23.9},
{"m":"pm10","d":"2020-06-02","v":24.5,"l":23,"h":26},
{"m":"pm10","d":"2020-06-04","v":23.3,"l":21.8,"h":24.8},
{"m":"pm10","d":"2020-06-07","v":22.7,"l":21.2,"h":24.2},
{"m":"pm10","d":"2020-06-10","v":25.1,"l":23.6,"h":26.6},
{"m":"pm10","d":"2020-06-12","v":23.3,"l":21.8,"h":24.8},
{"m":"pm10","d":"2020-06-14","v":21.5,"l":20,"h":23},
{"m":"pm10","d":"2020-06-17","v":22.4,"l":20.9,"h":23.9},
{"m":"pm10","d":"2020-06-19","v":21.2,"l":19.7,"h":22.7},
{"m":"pm10","d":"2020-06-22","v":22.7,"l":21.2,"h":24.2},
{"m":"pm10","d":"2020-06-25","v":23.9,"l":22.4,"h":25.4},
{"m":"pm10","d":"2020-06-27","v":23.9,"l":22.4,"h":25.4},
{"m":"pm10","d":"2020-06-30","v":21.5,"l":20,"h":23},
{"m":"pm10","d":"2020-07-03","v":21.8,"l":20.3,"h":23.3},
{"m":"pm10","d":"2020-07-05","v":20.9,"l":19.4,"h":22.4},
{"m":"pm10","d":"2020-07-08","v":21.2,"l":19.7,"h":22.7},
{"m":"pm10","d":"2020-07-11","v":22.1,"l":20.6,"h":23.6},
{"m":"pm10","d":"2020-07-13","v":19.1,"l":17.6,"h":20.6},
{"m":"pm10","d":"2020-07-15","v":21.5,"l":20,"h":23},
{"m":"pm10","d":"2020-07-18","v":21.2,"l":19.7,"h":22.7},
{"m":"pm10","d":"2020-07-20","v":22.4,"l":20.9,"h":23.9},
{"m":"pm10","d":"2020-07-23","v":23,"l":21.5,"h":24.5},
{"m":"pm10","d":"2020-07-26","v":21.5,"l":20,"h":23},
{"m":"pm10","d":"2020-07-28","v":22.1,"l":20.6,"h":23.6},
{"m":"pm10","d":"2020-07-30","v":22.7,"l":21.2,"h":24.2},
{"m":"pm10","d":"2020-07-31","v":24.2,"l":22.7,"h":25.7},
{"m":"o3","d":"2020-01-01","v":13.7,"l":12.5,"h":14.9},
{"m":"o3","d":"2020-01-02","v":14.9,"l":13.7,"h":16.1},
{"m":"o3","d":"2020-01-04","v":16.4,"l":15.2,"h":17.6},
{"m":"o3","d":"2020-01-06","v":13.1,"l":11.9,"h":14.3},
{"m":"o3","d":"2020-01-08","v":15.2,"l":14,"h":16.4},
{"m":"o3","d":"2020-01-10","v":14.9,"l":13.7,"h":16.1},
{"m":"o3","d":"2020-01-13","v":15.5,"l":14.3,"h":16.7},
{"m":"o3","d":"2020-01-16","v":14.6,"l":13.4,"h":15.8},
{"m":"o3","d":"2020-01-18","v":16.7,"l":15.5,"h":17.9},
{"m":"o3","d":"2020-01-20","v":15.5,"l":14.3,"h":16.7},
{"m":"o3","d":"2020-01-23","v":12.5,"l":11.3,"h":13.7},
{"m":"o3","d":"2020-01-25","v":13.7,"l":12.5,"h":14.9},
{"m":"o3","d":"2020-01-26","v":16.1,"l":14.9,"h":17.3},
{"m":"o3","d":"2020-01-29","v":18.2,"l":17.2,"h":19.2},
{"m":"o3","d":"2020-01-31","v":18.5,"l":17.5,"h":19.5},
{"m":"o3","d":"2020-02-02","v":19.1,"l":18.3,"h":19.9},
{"m":"o3","d":"2020-02-05","v":18.5,"l":17.7,"h":19.3},
{"m":"o3","d":"2020-02-07","v":15.8,"l":15,"h":16.6},
{"m":"o3","d":"2020-02-09","v":19.4,"l":18.6,"h":20.2},
{"m":"o3","d":"2020-02-11","v":20.3,"l":19.5,"h":21.1},
{"m":"o3","d":"2020-02-13","v":19.1,"l":18.3,"h":19.9},
{"m":"o3","d":"2020-02-15","v":17.9,"l":17.1,"h":18.7},
{"m":"o3","d":"2020-02-17","v":20.9,"l":20.1,"h":21.7},
{"m":"o3","d":"2020-02-19","v":19.4,"l":18.6,"h":20.2},
{"m":"o3","d":"2020-02-22","v":20,"l":19.2,"h":20.8},
{"m":"o3","d":"2020-02-24","v":20.9,"l":20.1,"h":21.7},
{"m":"o3","d":"2020-02-25","v":20,"l":19.2,"h":20.8},
{"m":"o3","d":"2020-02-27","v":21.5,"l":20.7,"h":22.3},
{"m":"o3","d":"2020-03-01","v":22.4,"l":21.6,"h":23.2},
{"m":"o3","d":"2020-03-03","v":18.5,"l":17.7,"h":19.3},
{"m":"o3","d":"2020-03-04","v":20.3,"l":19.5,"h":21.1},
{"m":"o3","d":"2020-03-07","v":20.9,"l":20.1,"h":21.7},
{"m":"o3","d":"2020-03-10","v":20.3,"l":19.5,"h":21.1},
{"m":"o3","d":"2020-03-12","v":20.9,"l":20.1,"h":21.7},
{"m":"o3","d":"2020-03-15","v":23.3,"l":22.5,"h":24.1},
{"m":"o3","d":"2020-03-18","v":20.6,"l":19.8,"h":21.4},
{"m":"o3","d":"2020-03-20","v":22.7,"l":21.9,"h":23.5},
{"m":"o3","d":"2020-03-23","v":23.3,"l":22.5,"h":24.1},
{"m":"o3","d":"2020-03-26","v":23.9,"l":23.1,"h":24.7},
{"m":"o3","d":"2020-03-28","v":25.1,"l":24.3,"h":25.9},
{"m":"o3","d":"2020-03-30","v":23.9,"l":23.1,"h":24.7},
{"m":"o3","d":"2020-04-01","v":22.7,"l":21.9,"h":23.5},
{"m":"o3","d":"2020-04-03","v":24.5,"l":23.7,"h":25.3},
{"m":"o3","d":"2020-04-06","v":25.7,"l":24.9,"h":26.5},
{"m":"o3","d":"2020-04-09","v":26.3,"l":25.5,"h":27.1},
{"m":"o3","d":"2020-04-11","v":27.5,"l":26.7,"h":28.3},
{"m":"o3","d":"2020-04-14","v":28.1,"l":27.3,"h":28.9},
{"m":"o3","d":"2020-04-17","v":26.3,"l":25.5,"h":27.1},
{"m":"o3","d":"2020-04-19","v":25.1,"l":24.3,"h":25.9},
{"m":"o3","d":"2020-04-22","v":25.7,"l":24.9,"h":26.5},
{"m":"o3","d":"2020-04-24","v":26.9,"l":26.1,"h":27.7},
{"m":"o3","d":"2020-04-26","v":29,"l":28.2,"h":29.8},
{"m":"o3","d":"2020-04-28","v":26.9,"l":26.1,"h":27.7},
{"m":"o3","d":"2020-05-01","v":26,"l":25.2,"h":26.8},
{"m":"o3","d":"2020-05-04","v":23.3,"l":22.5,"h":24.1},
{"m":"o3","d":"2020-05-06","v":25.1,"l":24.3,"h":25.9},
{"m":"o3","d":"2020-05-08","v":26.9,"l":26.1,"h":27.7},
{"m":"o3","d":"2020-05-11","v":26.3,"l":25.5,"h":27.1},
{"m":"o3","d":"2020-05-13","v":25.7,"l":24.9,"h":26.5},
{"m":"o3","d":"2020-05-16","v":25.1,"l":24.3,"h":25.9},
{"m":"o3","d":"2020-05-19","v":24.5,"l":23.7,"h":25.3},
{"m":"o3","d":"2020-05-21","v":25.4,"l":24.6,"h":26.2},
{"m":"o3","d":"2020-05-24","v":24.5,"l":23.7,"h":25.3},
{"m":"o3","d":"2020-05-27","v":25.7,"l":24.9,"h":26.5},
{"m":"o3","d":"2020-05-29","v":26.6,"l":25.8,"h":27.4},
{"m":"o3","d":"2020-05-31","v":26.9,"l":26.1,"h":27.7},
{"m":"o3","d":"2020-06-03","v":24.5,"l":23.7,"h":25.3},
{"m":"o3","d":"2020-06-05","v":25.1,"l":24.3,"h":25.9},
{"m":"o3","d":"2020-06-08","v":23.9,"l":23.1,"h":24.7},
{"m":"o3","d":"2020-06-11","v":22.7,"l":21.9,"h":23.5},
{"m":"o3","d":"2020-06-12","v":20.9,"l":20.1,"h":21.7},
{"m":"o3","d":"2020-06-14","v":23.3,"l":22.5,"h":24.1},
{"m":"o3","d":"2020-06-17","v":23,"l":22.2,"h":23.8},
{"m":"o3","d":"2020-06-19","v":23.3,"l":22.5,"h":24.1},
{"m":"o3","d":"2020-06-22","v":22.7,"l":21.9,"h":23.5},
{"m":"o3","d":"2020-06-25","v":25.1,"l":24.3,"h":25.9},
{"m":"o3","d":"2020-06-27","v":24.5,"l":23.7,"h":25.3},
{"m":"o3","d":"2020-06-30","v":21.8,"l":21,"h":22.6},
{"m":"o3","d":"2020-07-03","v":21.5,"l":20.7,"h":22.3},
{"m":"o3","d":"2020-07-05","v":21.8,"l":21,"h":22.6},
{"m":"o3","d":"2020-07-08","v":20.9,"l":20.1,"h":21.7},
{"m":"o3","d":"2020-07-11","v":22.4,"l":21.6,"h":23.2},
{"m":"o3","d":"2020-07-13","v":21.5,"l":20.7,"h":22.3},
{"m":"o3","d":"2020-07-16","v":22.1,"l":21.3,"h":22.9},
{"m":"o3","d":"2020-07-19","v":20.9,"l":20.1,"h":21.7},
{"m":"o3","d":"2020-07-21","v":22.7,"l":21.9,"h":23.5},
{"m":"o3","d":"2020-07-24","v":22.4,"l":21.6,"h":23.2},
{"m":"o3","d":"2020-07-26","v":21.5,"l":20.7,"h":22.3},
{"m":"o3","d":"2020-07-27","v":20,"l":19.2,"h":20.8},
{"m":"o3","d":"2020-07-30","v":20.9,"l":20.1,"h":21.7},
{"m":"o3","d":"2020-07-31","v":22.7,"l":21.9,"h":23.5},
{"m":"no2","d":"2020-01-01","v":12,"l":11.4,"h":12.6},
{"m":"no2","d":"2020-01-03","v":13.7,"l":13.1,"h":14.3},
{"m":"no2","d":"2020-01-05","v":12,"l":11.4,"h":12.6},
{"m":"no2","d":"2020-01-07","v":13.7,"l":13.1,"h":14.3},
{"m":"no2","d":"2020-01-09","v":12.5,"l":11.9,"h":13.1},
{"m":"no2","d":"2020-01-11","v":13.7,"l":13.1,"h":14.3},
{"m":"no2","d":"2020-01-13","v":12,"l":11.4,"h":12.6},
{"m":"no2","d":"2020-01-16","v":13.7,"l":13.1,"h":14.3},
{"m":"no2","d":"2020-01-18","v":12.8,"l":12.2,"h":13.4},
{"m":"no2","d":"2020-01-20","v":14.3,"l":13.7,"h":14.9},
{"m":"no2","d":"2020-01-22","v":15.8,"l":15.2,"h":16.4},
{"m":"no2","d":"2020-01-24","v":13.7,"l":13.1,"h":14.3},
{"m":"no2","d":"2020-01-25","v":12.5,"l":11.9,"h":13.1},
{"m":"no2","d":"2020-01-27","v":12,"l":11.4,"h":12.6},
{"m":"no2","d":"2020-01-30","v":11.6,"l":11,"h":12.2},
{"m":"no2","d":"2020-02-02","v":9.9,"l":9.3,"h":10.5},
{"m":"no2","d":"2020-02-04","v":11.3,"l":10.7,"h":11.9},
{"m":"no2","d":"2020-02-07","v":12.2,"l":11.6,"h":12.8},
{"m":"no2","d":"2020-02-09","v":10.4,"l":9.8,"h":11},
{"m":"no2","d":"2020-02-11","v":9.4,"l":8.8,"h":10},
{"m":"no2","d":"2020-02-14","v":12.2,"l":11.6,"h":12.8},
{"m":"no2","d":"2020-02-16","v":8.9,"l":8.3,"h":9.5},
{"m":"no2","d":"2020-02-19","v":12.2,"l":11.6,"h":12.8},
{"m":"no2","d":"2020-02-22","v":11,"l":10.4,"h":11.6},
{"m":"no2","d":"2020-02-24","v":10.1,"l":9.5,"h":10.7},
{"m":"no2","d":"2020-02-26","v":12,"l":11.4,"h":12.6},
{"m":"no2","d":"2020-02-28","v":10.7,"l":10.1,"h":11.3},
{"m":"no2","d":"2020-03-02","v":8.4,"l":7.8,"h":9},
{"m":"no2","d":"2020-03-03","v":11.6,"l":11,"h":12.2},
{"m":"no2","d":"2020-03-06","v":10.7,"l":10.1,"h":11.3},
{"m":"no2","d":"2020-03-09","v":10.4,"l":9.8,"h":11},
{"m":"no2","d":"2020-03-11","v":10.4,"l":9.8,"h":11},
{"m":"no2","d":"2020-03-13","v":8.9,"l":8.3,"h":9.5},
{"m":"no2","d":"2020-03-16","v":9.4,"l":8.8,"h":10},
{"m":"no2","d":"2020-03-19","v":11.3,"l":10.7,"h":11.9},
{"m":"no2","d":"2020-03-20","v":9.4,"l":8.8,"h":10},
{"m":"no2","d":"2020-03-23","v":6.9,"l":6.3,"h":7.5},
{"m":"no2","d":"2020-03-26","v":8.9,"l":8.3,"h":9.5},
{"m":"no2","d":"2020-03-28","v":7.8,"l":7.2,"h":8.4},
{"m":"no2","d":"2020-03-30","v":6,"l":5.4,"h":6.6},
{"m":"no2","d":"2020-04-02","v":8.4,"l":7.8,"h":9},
{"m":"no2","d":"2020-04-04","v":8,"l":7.4,"h":8.6},
{"m":"no2","d":"2020-04-07","v":8.9,"l":8.3,"h":9.5},
{"m":"no2","d":"2020-04-10","v":6.6,"l":6,"h":7.2},
{"m":"no2","d":"2020-04-12","v":8.4,"l":7.8,"h":9},
{"m":"no2","d":"2020-04-15","v":7.8,"l":7.2,"h":8.4},
{"m":"no2","d":"2020-04-18","v":8.7,"l":8.1,"h":9.3},
{"m":"no2","d":"2020-04-19","v":6.6,"l":6,"h":7.2},
{"m":"no2","d":"2020-04-22","v":7.2,"l":6.6,"h":7.8},
{"m":"no2","d":"2020-04-25","v":8.4,"l":7.8,"h":9},
{"m":"no2","d":"2020-04-27","v":7.2,"l":6.6,"h":7.8},
{"m":"no2","d":"2020-04-30","v":7.8,"l":7.2,"h":8.4},
{"m":"no2","d":"2020-05-03","v":6.3,"l":5.7,"h":6.9},
{"m":"no2","d":"2020-05-05","v":7.2,"l":6.6,"h":7.8},
{"m":"no2","d":"2020-05-08","v":8.4,"l":7.8,"h":9},
{"m":"no2","d":"2020-05-11","v":6.6,"l":6,"h":7.2},
{"m":"no2","d":"2020-05-13","v":8.4,"l":7.8,"h":9},
{"m":"no2","d":"2020-05-16","v":7.2,"l":6.6,"h":7.8},
{"m":"no2","d":"2020-05-18","v":8.4,"l":7.8,"h":9},
{"m":"no2","d":"2020-05-20","v":7.2,"l":6.6,"h":7.8},
{"m":"no2","d":"2020-05-24","v":5.7,"l":5.1,"h":6.3},
{"m":"no2","d":"2020-05-27","v":7.8,"l":7.2,"h":8.4},
{"m":"no2","d":"2020-05-29","v":7.8,"l":7.2,"h":8.4},
{"m":"no2","d":"2020-06-01","v":8.4,"l":7.8,"h":9},
{"m":"no2","d":"2020-06-04","v":6.6,"l":6,"h":7.2},
{"m":"no2","d":"2020-06-06","v":8.4,"l":7.8,"h":9},
{"m":"no2","d":"2020-06-09","v":7.8,"l":7.2,"h":8.4},
{"m":"no2","d":"2020-06-11","v":8.4,"l":7.8,"h":9},
{"m":"no2","d":"2020-06-14","v":6,"l":5.4,"h":6.6},
{"m":"no2","d":"2020-06-17","v":7.5,"l":6.9,"h":8.1},
{"m":"no2","d":"2020-06-19","v":7.8,"l":7.2,"h":8.4},
{"m":"no2","d":"2020-06-22","v":8,"l":7.4,"h":8.6},
{"m":"no2","d":"2020-06-25","v":6.9,"l":6.3,"h":7.5},
{"m":"no2","d":"2020-06-26","v":7.8,"l":7.2,"h":8.4},
{"m":"no2","d":"2020-06-29","v":6,"l":5.4,"h":6.6},
{"m":"no2","d":"2020-07-02","v":7.2,"l":6.6,"h":7.8},
{"m":"no2","d":"2020-07-04","v":7.2,"l":6.6,"h":7.8},
{"m":"no2","d":"2020-07-07","v":7.2,"l":6.6,"h":7.8},
{"m":"no2","d":"2020-07-10","v":6.6,"l":6,"h":7.2},
{"m":"no2","d":"2020-07-12","v":6,"l":5.4,"h":6.6},
{"m":"no2","d":"2020-07-15","v":6.9,"l":6.3,"h":7.5},
{"m":"no2","d":"2020-07-18","v":7.2,"l":6.6,"h":7.8},
{"m":"no2","d":"2020-07-20","v":7.5,"l":6.9,"h":8.1},
{"m":"no2","d":"2020-07-23","v":7.2,"l":6.6,"h":7.8},
{"m":"no2","d":"2020-07-26","v":6.6,"l":6,"h":7.2},
{"m":"no2","d":"2020-07-28","v":7.5,"l":6.9,"h":8.1},
{"m":"no2","d":"2020-07-31","v":8.4,"l":7.8,"h":9}
]
},
"hconcat":[
{
"title":"Before Lockdown",
"width":510,"height":464,
"encoding":{"x":{"field":"d","type":"temporal","scale":{"type":"utc","domain":[{"year":2019,"month":5,"date":21,"hours":17,"utc":true},{"year":2020,"month":1,"date":11,"utc":true}]},"axis":{"title":"Date","labelExpr":"utcFormat(datum.value, '%Y-%m')","labelOverlap":false,"labelFlush":false,"labelPadding":10,"titlePadding":6,"values":[{"year":2019,"month":6,"date":1,"utc":true},{"year":2019,"month":7,"date":1,"utc":true},{"year":2019,"month":8,"date":1,"utc":true},{"year":2019,"month":9,"date":1,"utc":true},{"year":2019,"month":10,"date":1,"utc":true},{"year":2019,"month":11,"date":1,"utc":true},{"year":2019,"month":12,"date":1,"utc":true},{"year":2020,"month":1,"date":1,"utc":true}]}}},
"layer":[
{"data":{"name":"b"},"mark":{"type":"area","opacity":0.25},"encoding":{"y":{"field":"l","type":"quantitative","scale":{"domain":[1.1,85.1],"nice":false,"zero":false},"axis":{"title":"Median","values":[10,20,30,40,50,60,70,80],"labelPadding":13,"titlePadding":9}},"y2":{"field":"h"},"color":{"field":"m","type":"nominal","scale":{"domain":["pm10","o3","pm25","no2"],"range":["#f77189","#97a431","#36ada4","#a48cf4"]},"legend":{"title":"Measurement","orient":"none","legendX":196,"legendY":7}}}},
{"data":{"name":"b"},"mark":{"type":"line","strokeWidth":2},"encoding":{"y":{"field":"v","type":"quantitative","scale":{"domain":[1.1,85.1],"nice":false,"zero":false},"axis":{"title":"Median","values":[10,20,30,40,50,60,70,80],"labelPadding":13,"titlePadding":9}},"color":{"field":"m","type":"nominal","scale":{"domain":["pm10","o3","pm25","no2"],"range":["#f77189","#97a431","#36ada4","#a48cf4"]},"legend":{"title":"Measurement","orient":"none","legendX":196,"legendY":7}}}},
{"data":{"values":[{"d":"2019-06-01"},{"d":"2019-12-31"}]},"mark":{"type":"rule","color":"#e23c3c","opacity":0.8,"strokeDash":[7,3],"strokeWidth":1.8},"encoding":{}}
]
},
{
"title":"During Lockdown",
"width":510,"height":464,
"encoding":{"x":{"field":"d","type":"temporal","scale":{"type":"utc","domain":[{"year":2019,"month":12,"date":21,"hours":19,"utc":true},{"year":2020,"month":8,"date":11,"hours":2,"utc":true}]},"axis":{"title":"Date","labelExpr":"utcFormat(datum.value, '%Y-%m')","labelOverlap":false,"labelFlush":false,"labelPadding":10,"titlePadding":6,"values":[{"year":2020,"month":1,"date":1,"utc":true},{"year":2020,"month":2,"date":1,"utc":true},{"year":2020,"month":3,"date":1,"utc":true},{"year":2020,"month":4,"date":1,"utc":true},{"year":2020,"month":5,"date":1,"utc":true},{"year":2020,"month":6,"date":1,"utc":true},{"year":2020,"month":7,"date":1,"utc":true},{"year":2020,"month":8,"date":1,"utc":true}]}}},
"layer":[
{"data":{"name":"a"},"mark":{"type":"area","opacity":0.25},"encoding":{"y":{"field":"l","type":"quantitative","scale":{"domain":[1.1,85.1],"nice":false,"zero":false},"axis":{"title":null,"labels":false,"values":[10,20,30,40,50,60,70,80]}},"y2":{"field":"h"},"color":{"field":"m","type":"nominal","scale":{"domain":["pm10","o3","pm25","no2"],"range":["#f77189","#97a431","#36ada4","#a48cf4"]},"legend":{"title":"Measurement","orient":"none","legendX":197,"legendY":7}}}},
{"data":{"name":"a"},"mark":{"type":"line","strokeWidth":2},"encoding":{"y":{"field":"v","type":"quantitative","scale":{"domain":[1.1,85.1],"nice":false,"zero":false},"axis":{"title":null,"labels":false,"values":[10,20,30,40,50,60,70,80]}},"color":{"field":"m","type":"nominal","scale":{"domain":["pm10","o3","pm25","no2"],"range":["#f77189","#97a431","#36ada4","#a48cf4"]},"legend":{"title":"Measurement","orient":"none","legendX":197,"legendY":7}}}},
{"data":{"values":[{"d":"2020-01-01"},{"d":"2020-07-31"}]},"mark":{"type":"rule","color":"#2a8a2a","opacity":0.8,"strokeDash":[7,3],"strokeWidth":1.8},"encoding":{}}
]
}
]
}
